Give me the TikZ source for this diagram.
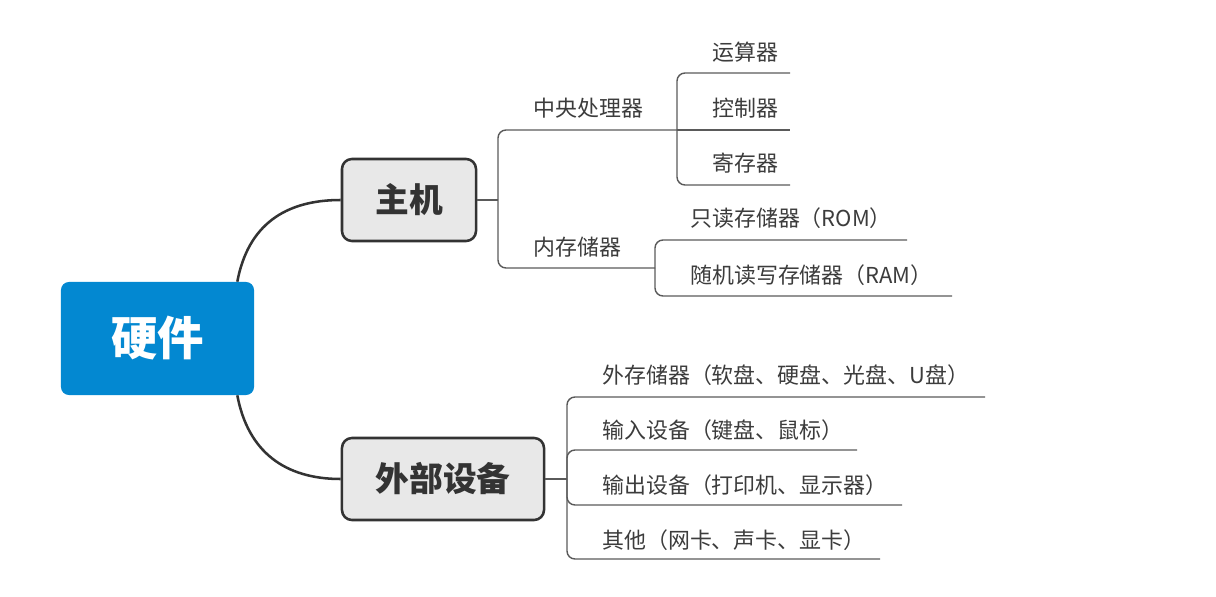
\documentclass[tikz,border=0pt]{standalone}
\usepackage{fontspec}
\setmainfont{Noto Sans CJK SC}

\definecolor{rootblue}{RGB}{3,136,209}
\definecolor{boxgray}{RGB}{232,232,232}
\definecolor{linedark}{RGB}{51,51,51}
\definecolor{linegray}{RGB}{90,90,90}
\definecolor{textgray}{RGB}{60,60,60}

\begin{document}
\begin{tikzpicture}[x=0.025cm,y=-0.025cm,
  rootbox/.style={fill=rootblue,rounded corners=0.2cm,minimum width=4.825cm,minimum height=2.825cm,
    text=white,font=\fontsize{33}{38}\selectfont\bfseries},
  mainbox/.style={draw=linedark,line width=1.8pt,fill=boxgray,rounded corners=0.25cm,minimum height=2.05cm,
    text=linedark,font=\fontsize{24}{28}\selectfont\bfseries},
  leaf/.style={anchor=west,inner sep=0pt,text=textgray,font=\fontsize{15.6}{18}\selectfont},
  mainline/.style={draw=linedark,line width=1.8pt},
  subline/.style={draw=linegray,line width=1pt,rounded corners=0.2cm}]

  % Fix the page
  \useasboundingbox (0,0) rectangle (1216,597);

  % Draw the main boxes
  \node[rootbox] (root) at (157.5,338.5) {硬件};
  \node[mainbox,minimum width=3.35cm] (host) at (409,200) {主机};
  \node[mainbox,minimum width=5.05cm] (ext) at (443,479) {外部设备};

  % Draw the curves from the root
  \draw[mainline] ([xshift=-0.425cm]root.north east) .. controls (248,225) and (285,200) .. (host.west);
  \draw[mainline] ([xshift=-0.425cm]root.south east) .. controls (248,452) and (285,479) .. (ext.west);

  % Host branch
  \coordinate (hostJ) at (498,200);
  \coordinate (cpuE) at (677,130);
  \coordinate (memE) at (655,268);
  \draw[subline] (host.east) -- (hostJ);
  \draw[subline] (hostJ) |- (cpuE);
  \draw[subline] (hostJ) |- (memE);
  \node[leaf] (cpu) at (533,108) {中央处理器};
  \node[leaf] (mem) at (533,247) {内存储器};

  % Parts of the CPU
  \coordinate (aluE) at (790,73);
  \coordinate (ctlE) at (790,130);
  \coordinate (regE) at (790,185);
  \draw[subline] (cpuE) |- (aluE);
  \draw[subline] (cpuE) -- (ctlE);
  \draw[subline] (cpuE) |- (regE);
  \node[leaf] (alu) at (712,52) {运算器};
  \node[leaf] (ctl) at (712,108) {控制器};
  \node[leaf] (reg) at (712,163) {寄存器};

  % Kinds of memory
  \coordinate (romE) at (907,240);
  \coordinate (ramE) at (952,296);
  \draw[subline] (memE) |- (romE);
  \draw[subline] (memE) |- (ramE);
  \node[leaf] (rom) at (690,218) {只读存储器（ROM）};
  \node[leaf] (ram) at (690,275) {随机读写存储器（RAM）};

  % Devices
  \coordinate (extJ) at (567,479);
  \coordinate (storE) at (985,397);
  \coordinate (inE) at (857,450);
  \coordinate (outE) at (902,505);
  \coordinate (otherE) at (880,559);
  \draw[subline] (ext.east) -- (extJ);
  \draw[subline] (extJ) |- (storE);
  \draw[subline] (extJ) |- (inE);
  \draw[subline] (extJ) |- (outE);
  \draw[subline] (extJ) |- (otherE);
  \node[leaf] (stor) at (602,375) {外存储器（软盘、硬盘、光盘、U盘）};
  \node[leaf] (in) at (602,430) {输入设备（键盘、鼠标）};
  \node[leaf] (out) at (602,485) {输出设备（打印机、显示器）};
  \node[leaf] (other) at (602,540) {其他（网卡、声卡、显卡）};
\end{tikzpicture}
\end{document}
